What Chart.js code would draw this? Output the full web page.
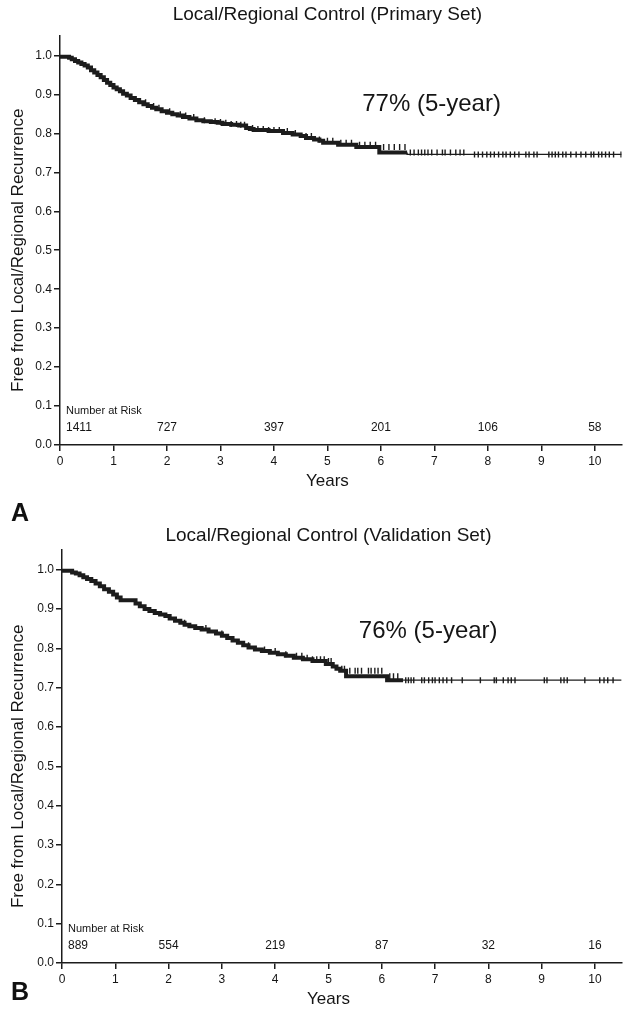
<!DOCTYPE html>
<html>
<head>
<meta charset="utf-8">
<script src="https://cdn.jsdelivr.net/npm/chart.js@4.4.0/dist/chart.umd.min.js"></script>
<style>
  body { margin: 0; background: #fff; width: 627px; height: 1009px; overflow: hidden; position: relative; font-family: "Liberation Sans", Arial, sans-serif; }
  canvas { position: absolute; left: 0; }
  #primaryChart { top: 0; }
  #validationChart { top: 520px; }
  .panel { position: absolute; left: 11px; font-weight: bold; font-size: 25px; color: #111; line-height: 28px; }
</style>
</head>
<body>
<canvas id="primaryChart" width="627" height="500"></canvas>
<canvas id="validationChart" width="627" height="489"></canvas>
<div class="panel" style="top:498px">A</div>
<div class="panel" style="top:977px">B</div>
<script>
// axis ticks
const xTicks = [0, 1, 2, 3, 4, 5, 6, 7, 8, 9, 10];
const yTicks = [0, 0.1, 0.2, 0.3, 0.4, 0.5, 0.6, 0.7, 0.8, 0.9, 1.0];
const riskYears = [0, 2, 4, 6, 8, 10];

// primary set - KM steps (years, proportion free)
const primaryTimes = [0, 0.17, 0.22, 0.28, 0.34, 0.4, 0.46, 0.52, 0.58, 0.64, 0.7, 0.76, 0.82, 0.88, 0.94, 1.0, 1.06, 1.12, 1.18, 1.25, 1.32, 1.4, 1.48, 1.56, 1.64, 1.72, 1.8, 1.9, 2.0, 2.1, 2.2, 2.3, 2.42, 2.55, 2.68, 2.82, 2.95, 3.04, 3.2, 3.35, 3.48, 3.55, 3.62, 3.9, 4.17, 4.35, 4.5, 4.6, 4.75, 4.85, 4.92, 5.2, 5.54, 5.97, 6.49, 7.7];
const primarySurv  = [1.0, 0.997, 0.994, 0.99, 0.986, 0.982, 0.978, 0.974, 0.969, 0.962, 0.956, 0.95, 0.944, 0.937, 0.93, 0.924, 0.918, 0.913, 0.908, 0.902, 0.897, 0.891, 0.886, 0.88, 0.875, 0.87, 0.866, 0.862, 0.857, 0.853, 0.849, 0.846, 0.842, 0.838, 0.834, 0.831, 0.829, 0.827, 0.824, 0.822, 0.82, 0.814, 0.811, 0.809, 0.806, 0.801, 0.797, 0.793, 0.788, 0.784, 0.781, 0.776, 0.771, 0.765, 0.751, 0.746];
const primaryCensor = [1.6, 1.75, 1.85, 2.05, 2.25, 2.35, 2.5, 2.7, 2.9, 3.0, 3.1, 3.2, 3.3, 3.38, 3.45, 3.6, 3.7, 3.8, 3.9, 4.0, 4.1, 4.25, 4.4, 4.6, 4.7, 4.85, 5.0, 5.1, 5.25, 5.35, 5.45, 5.6, 5.7, 5.8, 5.9, 6.05, 6.15, 6.25, 6.35, 6.45, 6.55, 6.62, 6.7, 6.76, 6.82, 6.88, 6.95, 7.05, 7.15, 7.2, 7.3, 7.4, 7.48, 7.55, 7.75, 7.82, 7.9, 7.98, 8.05, 8.12, 8.2, 8.28, 8.34, 8.42, 8.5, 8.58, 8.71, 8.77, 8.86, 8.92, 9.14, 9.2, 9.26, 9.32, 9.4, 9.46, 9.55, 9.65, 9.74, 9.83, 9.93, 9.98, 10.07, 10.13, 10.2, 10.27, 10.35, 10.49];
const primaryRisk = [1411, 727, 397, 201, 106, 58];

// validation set
const validTimes = [0, 0.19, 0.26, 0.33, 0.4, 0.47, 0.55, 0.63, 0.71, 0.79, 0.88, 0.96, 1.03, 1.1, 1.38, 1.46, 1.55, 1.64, 1.74, 1.84, 1.94, 2.02, 2.12, 2.22, 2.3, 2.39, 2.5, 2.62, 2.75, 2.89, 3.0, 3.1, 3.2, 3.3, 3.4, 3.5, 3.62, 3.75, 3.9, 4.05, 4.2, 4.35, 4.52, 4.7, 4.95, 5.08, 5.15, 5.22, 5.33, 6.1, 6.4];
const validSurv  = [1.0, 0.997, 0.993, 0.99, 0.986, 0.981, 0.976, 0.971, 0.965, 0.958, 0.95, 0.944, 0.937, 0.929, 0.922, 0.914, 0.907, 0.9, 0.895, 0.89, 0.886, 0.882, 0.876, 0.87, 0.865, 0.86, 0.856, 0.852, 0.848, 0.843, 0.838, 0.832, 0.826, 0.82, 0.814, 0.808, 0.802, 0.797, 0.793, 0.789, 0.785, 0.781, 0.776, 0.772, 0.768, 0.76, 0.754, 0.748, 0.743, 0.729, 0.719];
const validCensor = [2.3, 2.7, 3.0, 3.5, 3.8, 4.0, 4.2, 4.4, 4.5, 4.6, 4.7, 4.78, 4.85, 4.92, 5.0, 5.05, 5.25, 5.3, 5.4, 5.5, 5.55, 5.62, 5.75, 5.8, 5.87, 5.93, 6.0, 6.15, 6.22, 6.3, 6.45, 6.5, 6.55, 6.6, 6.75, 6.8, 6.88, 6.95, 7.0, 7.08, 7.15, 7.22, 7.31, 7.51, 7.85, 8.11, 8.15, 8.28, 8.37, 8.43, 8.5, 9.05, 9.1, 9.36, 9.42, 9.48, 9.81, 10.09, 10.17, 10.24, 10.34];
const validRisk = [889, 554, 219, 87, 32, 16];

const X_MAX = 10.5;
const INK = '#1c1c1c';
const TEXT = '#151515';
const FONT = '"Liberation Sans", Arial, sans-serif';

function survAt(times, surv, t) {
    let s = surv[0];
    for (let i = 0; i < times.length; i++) {
        if (times[i] <= t) s = surv[i];
    }
    return s;
}

// text drawn on top: titles, 5-year label, number at risk row
const kmText = {
    id: 'kmText',
    afterDraw(chart, args, o) {
        const { ctx, scales: { x, y } } = chart;
        const mid = x.getPixelForValue(5);
        const top = y.getPixelForValue(1.0);
        const base = y.getPixelForValue(0);
        ctx.save();
        ctx.fillStyle = TEXT;

        // chart title + x title, centred on the 0-10 span
        ctx.textAlign = 'center';
        ctx.textBaseline = 'alphabetic';
        ctx.font = '19px ' + FONT;
        ctx.fillText(o.title, mid, top - o.titleGap);
        ctx.font = '17px ' + FONT;
        ctx.fillText('Years', mid, base + 41);

        ctx.save();
        ctx.translate(o.yTitleX, y.getPixelForValue(0.5));
        ctx.rotate(-Math.PI / 2);
        ctx.textBaseline = 'middle';
        ctx.fillText('Free from Local/Regional Recurrence', 0, 0);
        ctx.restore();

        ctx.font = '24px ' + FONT;
        ctx.textAlign = 'left';
        ctx.textBaseline = 'middle';
        ctx.fillText(o.note, x.getPixelForValue(o.noteX), y.getPixelForValue(o.noteY));

        ctx.font = '11px ' + FONT;
        ctx.fillText('Number at Risk', x.getPixelForValue(0) + 6, base - 34);
        ctx.font = '12px ' + FONT;
        o.risk.forEach((n, i) => {
            const px = x.getPixelForValue(riskYears[i]);
            if (i === 0) {
                ctx.textAlign = 'left';
                ctx.fillText(String(n), px + 6, base - 17);
            } else {
                ctx.textAlign = 'center';
                ctx.fillText(String(n), px, base - 17);
            }
        });
        ctx.restore();
    }
};

function makeChart(id, cfg) {
    const curve = cfg.times.map((t, i) => ({ x: t, y: cfg.surv[i] }));
    curve.push({ x: X_MAX, y: cfg.surv[cfg.surv.length - 1] });
    const marks = cfg.censor.map(t => ({ x: t, y: survAt(cfg.times, cfg.surv, t) }));

    return new Chart(document.getElementById(id).getContext('2d'), {
        type: 'line',
        data: {
            datasets: [
                {
                    data: curve,
                    stepped: 'after',
                    borderColor: INK,
                    borderWidth: 1.3,
                    pointRadius: 0,
                    fill: false,
                    segment: {
                        borderWidth: ctx => ctx.p0.parsed.x < cfg.thickUntil ? 4 : 1.3
                    }
                },
                {
                    data: marks,
                    showLine: false,
                    pointStyle: 'line',
                    rotation: 90,
                    pointRadius: 3,
                    pointBorderWidth: 1.4,
                    borderColor: INK,
                    backgroundColor: INK
                }
            ]
        },
        options: {
            responsive: false,
            animation: false,
            layout: { padding: { left: 0, right: 3, top: cfg.topPad, bottom: 0 } },
            plugins: {
                legend: { display: false },
                tooltip: { enabled: false },
                title: { display: false },
                kmText: { title: cfg.title, titleGap: cfg.titleGap, note: cfg.note, noteX: cfg.noteX, noteY: cfg.noteY, risk: cfg.risk, yTitleX: 18 }
            },
            scales: {
                x: {
                    type: 'linear',
                    min: 0,
                    max: X_MAX,
                    afterBuildTicks: s => { s.ticks = xTicks.map(v => ({ value: v })); },
                    afterFit: s => { s.height = cfg.xHeight; },
                    border: { display: true, color: INK, width: 1.5 },
                    grid: { drawOnChartArea: false, drawTicks: true, tickLength: 6, color: INK, lineWidth: 1.5 },
                    ticks: { color: TEXT, font: { family: FONT, size: 12 }, padding: 3, maxRotation: 0 }
                },
                y: {
                    min: 0,
                    max: 1.05,
                    afterBuildTicks: s => { s.ticks = yTicks.map(v => ({ value: v })); },
                    afterFit: s => { s.width = cfg.yWidth; },
                    border: { display: true, color: INK, width: 1.5 },
                    grid: { drawOnChartArea: false, drawTicks: true, tickLength: 6, color: INK, lineWidth: 1.5 },
                    ticks: { color: TEXT, font: { family: FONT, size: 12 }, padding: 2, callback: v => v.toFixed(1) }
                }
            }
        },
        plugins: [kmText]
    });
}

makeChart('primaryChart', {
    title: 'Local/Regional Control (Primary Set)',
    times: primaryTimes, surv: primarySurv, censor: primaryCensor, risk: primaryRisk,
    note: '77% (5-year)', noteX: 5.65, noteY: 0.874,
    thickUntil: 6.45,
    topPad: 36, titleGap: 35, xHeight: 55, yWidth: 60
});

makeChart('validationChart', {
    title: 'Local/Regional Control (Validation Set)',
    times: validTimes, surv: validSurv, censor: validCensor, risk: validRisk,
    note: '76% (5-year)', noteX: 5.57, noteY: 0.842,
    thickUntil: 6.35,
    topPad: 30, titleGap: 29, xHeight: 46, yWidth: 62
});
</script>
</body>
</html>
